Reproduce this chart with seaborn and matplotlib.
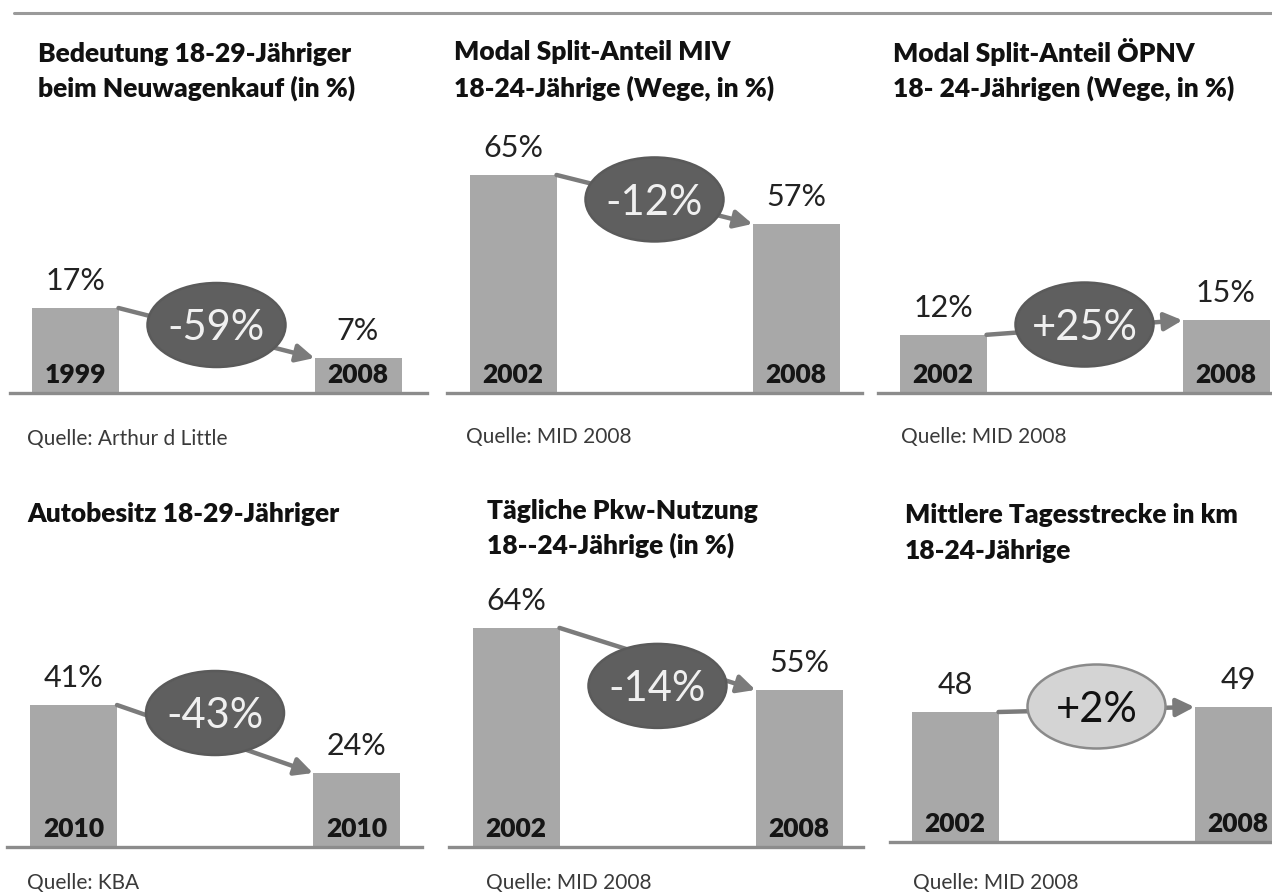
import numpy as np
import pandas as pd
import matplotlib
matplotlib.use("Agg")
import matplotlib.pyplot as plt
from matplotlib.patches import Ellipse
from matplotlib.lines import Line2D
import seaborn as sns

# ---- data -------------------------------------------------------------
titles = [
    ["Bedeutung 18-29-Jähriger", "beim Neuwagenkauf (in %)"],
    ["Modal Split-Anteil MIV", "18-24-Jährige (Wege, in %)"],
    ["Modal Split-Anteil ÖPNV", "18- 24-Jährigen (Wege, in %)"],
    ["Autobesitz 18-29-Jähriger"],
    ["Tägliche Pkw-Nutzung", "18--24-Jährige (in %)"],
    ["Mittlere Tagesstrecke in km", "18-24-Jährige"],
]
sources = [
    "Quelle: Arthur d Little",
    "Quelle: MID 2008",
    "Quelle: MID 2008",
    "Quelle: KBA",
    "Quelle: MID 2008",
    "Quelle: MID 2008",
]
start_years = ["1999", "2002", "2002", "2010", "2002", "2002"]
end_years = ["2008", "2008", "2008", "2010", "2008", "2008"]
start_values = [17, 65, 12, 41, 64, 48]
end_values = [7, 57, 15, 24, 55, 49]
units = ["%", "%", "%", "%", "%", ""]
changes = ["-59%", "-12%", "+25%", "-43%", "-14%", "+2%"]
dark_badge = [True, True, True, True, True, False]

# ---- layout (figure pixels) -------------------------------------------
W, H = 1272, 893
DPI = 100
# left, right, baseline, centre of first bar, y-axis floor, px per unit, badge shift
layout = [
    (10, 427, 393, 75.0, 0.0, 5.0, -8),
    (447, 862, 393, 513.0, 29.4, 6.125, 0),
    (878, 1272, 393, 943.0, 0.0, 4.85, -3),
    (7, 422, 847, 73.5, 5.5, 4.0, -26),
    (449, 863, 847, 516.0, 32.2, 6.89, 27),
    (890, 1272, 842, 955.0, 22.0, 5.0, -3),
]
axes_top = [115, 115, 115, 580, 580, 575]
title_pos = [
    (38, [62, 97]), (454, [60, 97]), (893, [62, 97]),
    (27, [522]), (487, [519, 554]), (905, [523, 559]),
]
source_pos = [(27, 445), (466, 443), (901, 443), (27, 889), (486, 889), (913, 889)]

BAR_STEP = 283.0          # px between the two bar centres
BAR_W_PX = 87.0
BADGE_W, BADGE_H = 138.0, 84.0

BAR_COLOR = "#a8a8a8"
AXIS_COLOR = "#8c8c8c"
ARROW_COLOR = "#7b7b7b"

sns.set_theme(style="white")
plt.rcParams["font.family"] = ["Lato", "DejaVu Sans"]

fig = plt.figure(figsize=(W / DPI, H / DPI), dpi=DPI)
fig.patch.set_facecolor("white")

# rule across the top
fig.add_artist(Line2D([14 / W, 1.0], [1 - 13 / H, 1 - 13 / H],
                      color="#9a9a9a", lw=2.2, transform=fig.transFigure))

bw = BAR_W_PX / BAR_STEP

for i in range(6):
    left, right, base, c1, lo, ppu, bdy = layout[i]
    top = axes_top[i]
    ax = fig.add_axes([left / W, (H - base) / H, (right - left) / W, (base - top) / H])

    df = pd.DataFrame({"slot": [0, 1], "value": [start_values[i], end_values[i]]})
    sns.barplot(data=df, x="slot", y="value", ax=ax, color=BAR_COLOR,
                saturation=1, width=bw, edgecolor="none", zorder=1)

    ax.set_xlim((left - c1) / BAR_STEP, (right - c1) / BAR_STEP)
    ax.set_ylim(lo, lo + (base - top) / ppu)
    ax.set_xticks([])
    ax.set_yticks([])
    ax.set_xlabel("")
    ax.set_ylabel("")
    for s in ("top", "right", "left"):
        ax.spines[s].set_visible(False)
    ax.spines["bottom"].set_color(AXIS_COLOR)
    ax.spines["bottom"].set_linewidth(2.4)
    ax.patch.set_alpha(0)

    v1, v2 = start_values[i], end_values[i]

    # value labels above the bars
    for x, v in ((0, v1), (1, v2)):
        ax.annotate(f"{v}{units[i]}", (x, v), xytext=(0, 13), textcoords="offset points",
                    ha="center", va="baseline", fontsize=22, color="#222222")
    # year labels inside the bars
    for x, yr in ((0, start_years[i]), (1, end_years[i])):
        ax.annotate(yr, (x, lo), xytext=(0, 7), textcoords="offset points",
                    ha="center", va="baseline", fontsize=19, fontweight="heavy",
                    color="#151515", annotation_clip=False)

    # arrow from first bar to second bar
    ax.annotate("", xy=(1 - bw / 2, v2), xytext=(bw / 2, v1),
                arrowprops=dict(arrowstyle="-|>,head_length=0.9,head_width=0.45",
                                lw=3.2, color=ARROW_COLOR, shrinkA=0, shrinkB=0),
                zorder=3)

    # change badge
    cy = (v1 + v2) / 2 - bdy / ppu
    if dark_badge[i]:
        fc, ec, tc = "#5f5f5f", "#5a5a5a", "#f0f0f0"
    else:
        fc, ec, tc = "#d4d4d4", "#8a8a8a", "#111111"
    ax.add_patch(Ellipse((0.5, cy), BADGE_W / BAR_STEP, BADGE_H / ppu,
                         facecolor=fc, edgecolor=ec, lw=1.8, zorder=4))
    ax.text(0.5, cy, changes[i], ha="center", va="center_baseline", fontsize=30,
            color=tc, zorder=5)

    # titles and sources
    tx, tys = title_pos[i]
    for line, ty in zip(titles[i], tys):
        fig.text(tx / W, 1 - ty / H, line, ha="left", va="baseline",
                 fontsize=19, fontweight="heavy", color="#111111")
    sx, sy = source_pos[i]
    fig.text(sx / W, 1 - sy / H, sources[i], ha="left", va="baseline",
             fontsize=15, color="#3a3a3a")

fig.savefig("out.png", dpi=DPI, facecolor="white")
